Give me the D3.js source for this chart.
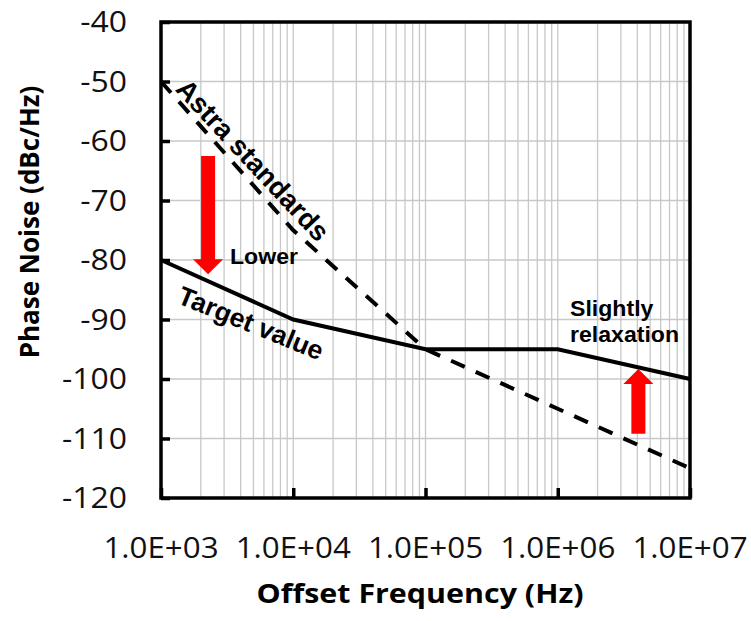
<!DOCTYPE html>
<html><head><meta charset="utf-8">
<script src="https://cdn.jsdelivr.net/npm/d3@7"></script>
<style>html,body{margin:0;padding:0;background:#fff;}svg{display:block;}</style>
</head><body>
<svg id="chart" width="751" height="621"></svg>
<script>
// ---- data ----
const freqs = [1e3, 1e4, 1e5, 1e6, 1e7];
const astraValues = [-50, -75, -95, -105, -115];
const targetValues = [-80, -90, -95, -95, -100];
const yTicks = [-40, -50, -60, -70, -80, -90, -100, -110, -120];
const xTicks = [1e3, 1e4, 1e5, 1e6, 1e7];
const xTickLabels = ["1.0E+03", "1.0E+04", "1.0E+05", "1.0E+06", "1.0E+07"];
const arrowFreqs = [2.27e3, 4.07e6];
const arrowFrom = [-62.5, -109.2];
const arrowTo = [-82.4, -98.3];
const xTitle = "Offset Frequency (Hz)";
const yTitle = "Phase Noise (dBc/Hz)";

// ---- layout ----
const L = 161, R = 690, T = 22, B = 498;
const svg = d3.select("#chart");
const x = d3.scaleLog().domain([1e3, 1e7]).range([L, R]);
const y = d3.scaleLinear().domain([-120, -40]).range([B, T]);

// gridlines
const minor = [];
for (let d = 3; d < 7; d++) for (let m = 1; m <= 9; m++) minor.push(m * Math.pow(10, d));
minor.push(1e7);
const g = svg.append("g");
g.selectAll("line.vg").data(minor).join("line")
  .attr("x1", d => x(d)).attr("x2", d => x(d)).attr("y1", T).attr("y2", B)
  .attr("stroke", "#c8c8c8").attr("stroke-width", 1.3);
g.selectAll("line.hg").data(yTicks).join("line")
  .attr("x1", L).attr("x2", R).attr("y1", d => y(d)).attr("y2", d => y(d))
  .attr("stroke", "#c8c8c8").attr("stroke-width", 1.3);

// axes via d3 axes (inward ticks)
const yAxis = svg.append("g").attr("transform", `translate(${L},0)`)
  .call(d3.axisRight(y).tickValues(yTicks).tickSize(9).tickFormat(""));
const xAxis = svg.append("g").attr("transform", `translate(0,${B})`)
  .call(d3.axisTop(x).tickValues(xTicks).tickSize(10).tickFormat(""));
[yAxis, xAxis].forEach(a => {
  a.select(".domain").remove();
  a.selectAll(".tick line").attr("stroke", "#000").attr("stroke-width", 3.5);
});

// frame
svg.append("rect").attr("x", L).attr("y", T).attr("width", R - L).attr("height", B - T)
  .attr("fill", "none").attr("stroke", "#000").attr("stroke-width", 3.5);

// tick labels
svg.selectAll("text.yl").data(yTicks).join("text")
  .attr("transform", d => `translate(127,${y(d)}) scale(1.1,1)`)
  .attr("text-anchor", "end").attr("dy", "0.36em")
  .style("font-family", "'Open Sans', sans-serif").style("font-size", "29px").attr("fill", "#111")
  .text(d => d);
svg.selectAll("text.xl").data(xTicks).join("text")
  .attr("transform", d => `translate(${x(d)},558) scale(1.08,1)`)
  .attr("text-anchor", "middle")
  .style("font-family", "'Open Sans', sans-serif").style("font-size", "29px").attr("fill", "#111")
  .text((d, i) => xTickLabels[i]);

// axis titles
svg.append("text").attr("transform", "translate(420,603) scale(1.17,1)")
  .attr("text-anchor", "middle")
  .style("font-family", "'Open Sans', sans-serif").style("font-size", "26px").style("font-weight", "bold")
  .text(xTitle);
svg.append("text").attr("transform", "translate(39,222) rotate(-90)")
  .attr("text-anchor", "middle")
  .style("font-family", "'Open Sans', sans-serif").style("font-size", "26px").style("font-weight", "bold")
  .text(yTitle);

// lines
const line = d3.line().x((d, i) => x(freqs[i])).y(d => y(d));
svg.append("path").attr("d", line(astraValues)).attr("fill", "none")
  .attr("stroke", "#000").attr("stroke-width", 4).attr("stroke-dasharray", "15,12");
svg.append("path").attr("d", line(targetValues)).attr("fill", "none")
  .attr("stroke", "#000").attr("stroke-width", 4).attr("stroke-linejoin", "miter");

// arrows
const shaftW = 14, headW = 30, headL = 15;
arrowFreqs.forEach((f, i) => {
  const cx = x(f), y0 = y(arrowFrom[i]), y1 = y(arrowTo[i]);
  const dir = y1 > y0 ? 1 : -1;
  const hb = y1 - dir * headL;
  const pts = [
    [cx - shaftW / 2, y0], [cx + shaftW / 2, y0], [cx + shaftW / 2, hb], [cx + headW / 2, hb],
    [cx, y1], [cx - headW / 2, hb], [cx - shaftW / 2, hb]
  ];
  svg.append("path").attr("d", "M" + pts.map(p => p.join(",")).join("L") + "Z").attr("fill", "#ff0000");
});

// annotations
const ann = "'Liberation Sans', Arial, sans-serif";
svg.append("text").attr("transform", "translate(253,160) rotate(47)")
  .attr("text-anchor", "middle").attr("dy", "0.35em")
  .style("font-family", ann).style("font-size", "27.5px").style("font-weight", "bold").text("Astra standards");
svg.append("text").attr("transform", "translate(251,323) rotate(22)")
  .attr("text-anchor", "middle").attr("dy", "0.35em")
  .style("font-family", ann).style("font-size", "26.5px").style("font-weight", "bold").text("Target value");
svg.append("text").attr("transform", "translate(230,264) scale(1.05,1)")
  .style("font-family", ann).style("font-size", "22px").style("font-weight", "bold").text("Lower");
svg.append("text").attr("transform", "translate(570,316) scale(1.05,1)")
  .style("font-family", ann).style("font-size", "22px").style("font-weight", "bold").text("Slightly");
svg.append("text").attr("transform", "translate(570,342) scale(1.05,1)")
  .style("font-family", ann).style("font-size", "22px").style("font-weight", "bold").text("relaxation");
</script>
</body></html>
